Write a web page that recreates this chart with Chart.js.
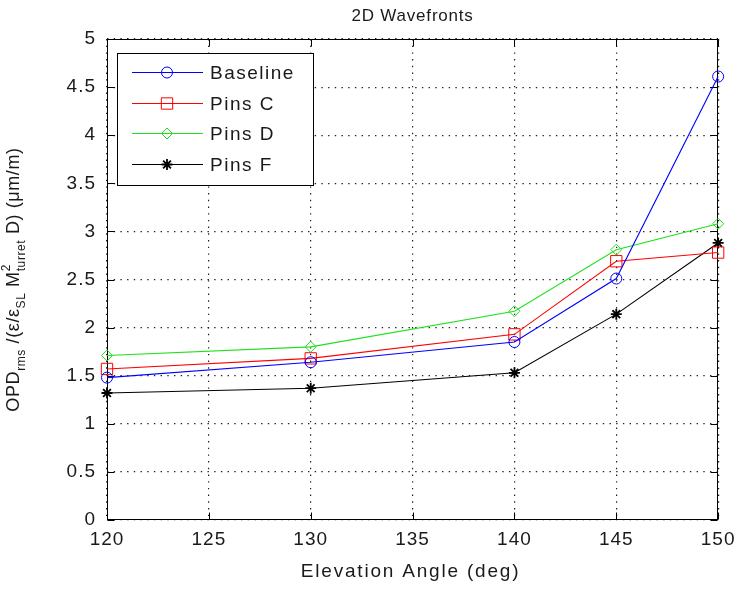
<!DOCTYPE html>
<html>
<head>
<meta charset="utf-8">
<script src="https://cdn.jsdelivr.net/npm/chart.js@4/dist/chart.umd.min.js"></script>
<style>
  html, body { margin: 0; padding: 0; background: #ffffff; }
  #wrap { width: 742px; height: 590px; }
</style>
</head>
<body>
<div id="wrap"><canvas id="c" width="742" height="590"></canvas></div>
<script>
// Elevation angles (deg) and normalised OPD values per configuration
const angles   = [120, 130, 140, 145, 150];
const baseline = [1.48, 1.64, 1.85, 2.51, 4.61];
const pinsC    = [1.57, 1.68, 1.93, 2.69, 2.78];
const pinsD    = [1.71, 1.80, 2.17, 2.81, 3.08];
const pinsF    = [1.32, 1.37, 1.53, 2.14, 2.88];
const seriesNames = ['Baseline', 'Pins C', 'Pins D', 'Pins F'];

const xTicks = [120, 125, 130, 135, 140, 145, 150];
const yTicks = [0, 0.5, 1, 1.5, 2, 2.5, 3, 3.5, 4, 4.5, 5];

const titleText = '2D Wavefronts';
const xTitleText = 'Elevation Angle (deg)';

const FONT = '"Liberation Sans", Arial, Helvetica, sans-serif';
const TEXT_COLOR = '#1a1a1a';

const styles = [
  { color: '#0000ff', pointStyle: 'circle',  radius: 5.5, pw: 1 },
  { color: '#ff0000', pointStyle: 'rect',    radius: 8,   pw: 1 },
  { color: '#1ee01e', pointStyle: 'rectRot', radius: 5.5, pw: 1 },
  { color: '#000000', pointStyle: 'star',    radius: 5.5, pw: 1.8 }
];

const values = [baseline, pinsC, pinsD, pinsF];
const datasets = values.map((vals, i) => ({
  label: seriesNames[i],
  data: angles.map((a, j) => ({ x: a, y: vals[j] })),
  borderColor: styles[i].color,
  backgroundColor: 'rgba(0,0,0,0)',
  borderWidth: 1.1,
  pointStyle: styles[i].pointStyle,
  pointRadius: styles[i].radius,
  pointHoverRadius: styles[i].radius,
  pointBorderColor: styles[i].color,
  pointBackgroundColor: 'rgba(0,0,0,0)',
  pointBorderWidth: styles[i].pw,
  tension: 0,
  clip: false
}));

// simple marker painter used for the legend samples
function marker(ctx, style, x, y, r) {
  ctx.beginPath();
  if (style === 'circle') {
    ctx.arc(x, y, r, 0, Math.PI * 2);
  } else if (style === 'rect') {
    const s = r * Math.SQRT1_2;
    ctx.rect(x - s, y - s, 2 * s, 2 * s);
  } else if (style === 'rectRot') {
    ctx.moveTo(x, y - r); ctx.lineTo(x + r, y); ctx.lineTo(x, y + r); ctx.lineTo(x - r, y); ctx.closePath();
  } else if (style === 'star') {
    for (let k = 0; k < 4; k++) {
      const a = k * Math.PI / 4;
      ctx.moveTo(x - Math.cos(a) * r, y - Math.sin(a) * r);
      ctx.lineTo(x + Math.cos(a) * r, y + Math.sin(a) * r);
    }
  }
  ctx.stroke();
}

const matlabLook = {
  id: 'matlabLook',
  beforeDraw(chart) {
    const ctx = chart.ctx;
    ctx.save();
    ctx.fillStyle = '#ffffff';
    ctx.fillRect(0, 0, chart.width, chart.height);
    ctx.restore();
    if ('letterSpacing' in ctx) ctx.letterSpacing = '1px';
  },
  beforeDatasetsDraw(chart) {
    // axes box with inward tick marks on all four sides
    const ctx = chart.ctx;
    const a = chart.chartArea;
    const xs = chart.scales.x, ys = chart.scales.y;
    const L = Math.round(a.left) + 0.5, R = Math.round(a.right) - 0.5;
    const T = Math.round(a.top) + 0.5, B = Math.round(a.bottom) - 0.5;
    const tl = 7;
    ctx.save();
    ctx.strokeStyle = '#000';
    ctx.lineWidth = 1;
    ctx.setLineDash([]);
    ctx.strokeRect(L, T, R - L, B - T);
    ctx.beginPath();
    xTicks.forEach(v => {
      const px = Math.round(xs.getPixelForValue(v)) + 0.5;
      ctx.moveTo(px, B); ctx.lineTo(px, B - tl);
      ctx.moveTo(px, T); ctx.lineTo(px, T + tl);
    });
    yTicks.forEach(v => {
      const py = Math.round(ys.getPixelForValue(v)) + 0.5;
      ctx.moveTo(L, py); ctx.lineTo(L + tl, py);
      ctx.moveTo(R, py); ctx.lineTo(R - tl, py);
    });
    ctx.stroke();
    ctx.restore();
  },
  afterDraw(chart) {
    const ctx = chart.ctx;
    const a = chart.chartArea;
    const cx = (a.left + a.right) / 2;
    const cy = (a.top + a.bottom) / 2;
    ctx.save();
    ctx.fillStyle = TEXT_COLOR;
    ctx.textAlign = 'center';
    ctx.textBaseline = 'middle';

    // title
    if ('letterSpacing' in ctx) ctx.letterSpacing = '0.8px';
    ctx.font = '17px ' + FONT;
    ctx.fillText(titleText, cx, 16);

    // x axis title
    if ('letterSpacing' in ctx) ctx.letterSpacing = '1.8px';
    ctx.font = '19px ' + FONT;
    ctx.fillText(xTitleText, cx - 2, 572);

    // y axis title with subscripts and superscript, centred on the axes
    const big = '18px ' + FONT, small = '12px ' + FONT;
    const parts = [
      { t: 'OPD', f: big, v: 0 },
      { t: 'rms', f: small, v: 6 },
      { t: ' /(\u03b5/\u03b5', f: big, v: 0 },
      { t: 'SL', f: small, v: 6 },
      { t: ' M', f: big, v: 0 },
      { t: '2', f: small, v: -9, stack: true },
      { t: 'turret', f: small, v: 6 },
      { t: ' D) (\u03bcm/m)', f: big, v: 0 }
    ];
    if ('letterSpacing' in ctx) ctx.letterSpacing = '0.6px';
    // measure first so the label can be centred
    let total = 0, pend = 0;
    parts.forEach(p => {
      ctx.font = p.f;
      const w = ctx.measureText(p.t).width;
      p.w = w;
      if (p.stack) { pend = w; } else { total += Math.max(w, pend); pend = 0; }
    });
    ctx.translate(19, cy + total / 2);
    ctx.rotate(-Math.PI / 2);
    ctx.textAlign = 'left';
    ctx.textBaseline = 'alphabetic';
    let u = 0;
    pend = 0;
    parts.forEach(p => {
      ctx.font = p.f;
      ctx.fillText(p.t, u, p.v);
      if (p.stack) { pend = p.w; } else { u += Math.max(p.w, pend); pend = 0; }
    });
    ctx.restore();

    // legend box
    ctx.save();
    const bx = 117.5, by = 53.5, bw = 196, bh = 132;
    ctx.fillStyle = '#ffffff';
    ctx.fillRect(bx, by, bw, bh);
    ctx.strokeStyle = '#000';
    ctx.lineWidth = 1;
    ctx.strokeRect(bx, by, bw, bh);
    ctx.font = '19px ' + FONT;
    if ('letterSpacing' in ctx) ctx.letterSpacing = '1.5px';
    ctx.textAlign = 'left';
    ctx.textBaseline = 'middle';
    seriesNames.forEach((name, i) => {
      const y = Math.round(72 + i * 30.7) + 0.5;
      const st = styles[i];
      ctx.strokeStyle = st.color;
      ctx.lineWidth = 1.1;
      ctx.beginPath();
      ctx.moveTo(132, y); ctx.lineTo(203, y);
      ctx.stroke();
      ctx.lineWidth = st.pw;
      marker(ctx, st.pointStyle, 167, y, st.radius);
      ctx.fillStyle = TEXT_COLOR;
      ctx.fillText(name, 210, y + 1);
    });
    ctx.restore();
  }
};

new Chart(document.getElementById('c'), {
  type: 'line',
  data: { datasets },
  options: {
    responsive: false,
    animation: false,
    devicePixelRatio: 1,
    layout: { padding: { top: 39, right: 18, left: 0, bottom: 0 } },
    plugins: {
      legend: { display: false },
      title: { display: false },
      tooltip: { enabled: false }
    },
    scales: {
      x: {
        type: 'linear',
        min: 120, max: 150,
        afterBuildTicks: s => { s.ticks = xTicks.map(v => ({ value: v })); },
        afterFit: s => { s.height = 70; },
        grid: { color: '#222', lineWidth: 1.2, drawTicks: false },
        border: { display: false, dash: [1.4, 5.3] },
        ticks: {
          color: TEXT_COLOR, padding: 8, maxRotation: 0, autoSkip: false,
          font: { family: FONT, size: 19 },
          callback: v => String(v)
        }
      },
      y: {
        type: 'linear',
        min: 0, max: 5,
        afterBuildTicks: s => { s.ticks = yTicks.map(v => ({ value: v })); },
        afterFit: s => { s.width = 107; },
        grid: { color: '#222', lineWidth: 1.2, drawTicks: false },
        border: { display: false, dash: [1.4, 5.3] },
        ticks: {
          color: TEXT_COLOR, padding: 11, autoSkip: false,
          font: { family: FONT, size: 19 },
          callback: v => String(v)
        }
      }
    }
  },
  plugins: [matlabLook]
});
</script>
</body>
</html>
